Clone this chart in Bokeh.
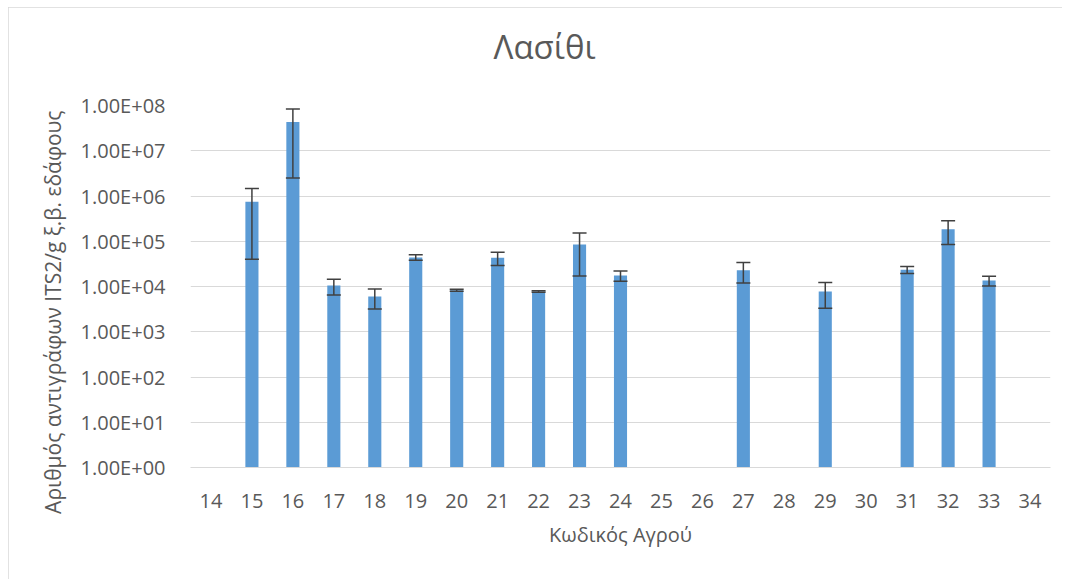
from bokeh.plotting import figure
from bokeh.models import (FactorRange, Range1d, FixedTicker, CustomJSTickFormatter,
                          ColumnDataSource, Whisker, TeeHead, Title)
from bokeh.embed import file_html
from bokeh.resources import INLINE

# ---- data ----
categories = [str(i) for i in range(14, 35)]
fields = ["15", "16", "17", "18", "19", "20", "21", "22", "23", "24",
          "27", "29", "31", "32", "33"]
means = [7.5e5, 4.3e7, 1.05e4, 6.0e3, 4.4e4, 8.3e3, 4.3e4, 7.8e3, 8.5e4, 1.75e4,
         2.3e4, 7.8e3, 2.35e4, 1.85e5, 1.35e4]
errors = [7.1e5, 4.05e7, 4.0e3, 2.8e3, 6.0e3, 4.0e2, 1.4e4, 3.0e2, 6.8e4, 4.5e3,
          1.1e4, 4.5e3, 4.0e3, 1.0e5, 3.3e3]
y_ticks = [1e0, 1e1, 1e2, 1e3, 1e4, 1e5, 1e6, 1e7, 1e8]

title_text = "Λασίθι"
x_label = "Κωδικός Αγρού"
y_label = "Αριθμός αντιγράφων ITS2/g ξ.β. εδάφους"

FONT = "Open Sans"
TXT = "#595959"
GRID = "#D9D9D9"

src = ColumnDataSource(dict(
    x=fields,
    top=means,
    upper=[m + e for m, e in zip(means, errors)],
    lower=[m - e for m, e in zip(means, errors)],
))

p = figure(width=1054, height=572, x_range=FactorRange(*categories),
           y_range=Range1d(1, 1e8), y_axis_type="log", title=None,
           output_backend="svg", toolbar_location=None,
           min_border_left=182, min_border_right=12,
           min_border_top=98, min_border_bottom=112)

p.styles = {"margin": "7px 0 0 8px", "outline": "1px solid #D9D9D9",
            "outline-offset": "-1px"}

# spacer between plot area and chart title, then the chart title above it
p.add_layout(Title(text=" ", text_font=FONT, text_font_size="10px", standoff=19),
             "above")
p.add_layout(Title(text=title_text, align="left", offset=303, standoff=4,
                   text_font=FONT, text_font_size="33px", text_font_style="normal",
                   text_color=TXT), "above")

# y axis title (as a side title so it can be positioned along the axis)
p.add_layout(Title(text=y_label, align="right", offset=5, standoff=21,
                   text_font=FONT, text_font_size="21px", text_font_style="normal",
                   text_color=TXT), "left")

p.vbar(x="x", top="top", bottom=1, width=0.32, source=src,
       fill_color="#5B9BD5", line_color=None)

w = Whisker(base="x", upper="upper", lower="lower", source=src, dimension="height",
            line_color="#404040", line_width=1.5, level="overlay",
            upper_head=TeeHead(size=14, line_color="#404040", line_width=1.5),
            lower_head=TeeHead(size=14, line_color="#404040", line_width=1.5))
p.add_layout(w)

p.outline_line_color = None
p.xgrid.grid_line_color = None
p.ygrid.ticker = FixedTicker(ticks=y_ticks)
p.ygrid.grid_line_color = GRID
p.ygrid.grid_line_width = 1

p.yaxis.ticker = FixedTicker(ticks=y_ticks, minor_ticks=[])
p.yaxis.formatter = CustomJSTickFormatter(code=r"""
return tick.toExponential(2).toUpperCase().replace(/E([+-])(\d)$/, function(m, s, d){ return 'E' + s + '0' + d; });
""")
p.yaxis.axis_line_color = None
p.yaxis.major_tick_line_color = None
p.yaxis.minor_tick_line_color = None
p.yaxis.major_label_standoff = 19

p.xaxis.axis_line_color = GRID
p.xaxis.major_tick_line_color = None
p.xaxis.minor_tick_line_color = None
p.xaxis.major_label_standoff = 20
p.xaxis.axis_label = x_label
p.xaxis.axis_label_standoff = 10

for ax in (p.xaxis, p.yaxis):
    ax.major_label_text_font = FONT
    ax.major_label_text_font_size = "20px"
    ax.major_label_text_color = TXT
    ax.axis_label_text_font = FONT
    ax.axis_label_text_font_size = "20px"
    ax.axis_label_text_font_style = "normal"
    ax.axis_label_text_color = TXT

open("out.html", "w").write(file_html(p, INLINE))
